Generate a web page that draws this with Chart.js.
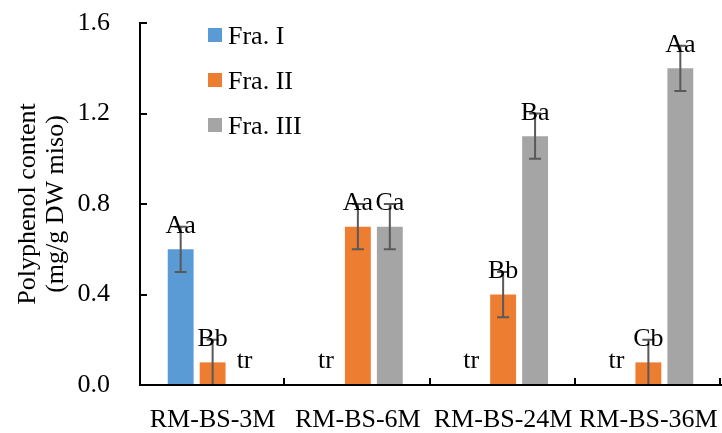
<!DOCTYPE html>
<html>
<head>
<meta charset="utf-8">
<script src="https://cdn.jsdelivr.net/npm/chart.js@4/dist/chart.umd.min.js"></script>
<style>
  html, body { margin: 0; padding: 0; background: #fff; }
  #wrap { width: 722px; height: 433px; position: relative; }
</style>
</head>
<body>
<div id="wrap"><canvas id="canvas"></canvas></div>
<script>
// samples on the x axis
const samples = ['RM-BS-3M', 'RM-BS-6M', 'RM-BS-24M', 'RM-BS-36M'];

// polyphenol content (mg/g DW miso), tr = trace -> 0
const fra1 = [0.6, 0, 0, 0];
const fra2 = [0.1, 0.7, 0.4, 0.1];
const fra3 = [0, 0.7, 1.1, 1.4];

// standard deviations (null = no bar)
const err1 = [0.1, null, null, null];
const err2 = [0.1, 0.1, 0.1, 0.1];
const err3 = [null, 0.1, 0.1, 0.1];

// significance letters
const tag1 = ['Aa', 'tr', 'tr', 'tr'];
const tag2 = ['Bb', 'Aa', 'Bb', 'Cb'];
const tag3 = ['tr', 'Ca', 'Ba', 'Aa'];

const yTicks = [0, 0.4, 0.8, 1.2, 1.6];

const SERIF = "'Liberation Serif', 'Times New Roman', serif";

// error bars + letters above each bar
const errorBars = {
  id: 'errorBars',
  afterDatasetsDraw(chart) {
    const ctx = chart.ctx;
    const y = chart.scales.y;
    ctx.save();
    chart.data.datasets.forEach((ds, i) => {
      const meta = chart.getDatasetMeta(i);
      meta.data.forEach((bar, j) => {
        const v = ds.data[j];
        const e = ds.err[j];
        let top = y.getPixelForValue(v);
        if (e != null) {
          top = y.getPixelForValue(v + e);
          const bot = y.getPixelForValue(Math.max(v - e, 0));
          ctx.strokeStyle = '#595959';
          ctx.lineWidth = 2;
          ctx.beginPath();
          ctx.moveTo(bar.x, top); ctx.lineTo(bar.x, bot);
          ctx.moveTo(bar.x - 6, top); ctx.lineTo(bar.x + 6, top);
          ctx.moveTo(bar.x - 6, bot); ctx.lineTo(bar.x + 6, bot);
          ctx.stroke();
        }
        const tag = ds.tags[j];
        if (!tag) return;
        ctx.fillStyle = '#000';
        ctx.font = '26px ' + SERIF;
        ctx.textAlign = 'center';
        ctx.textBaseline = 'alphabetic';
        if (tag === 'tr') {
          ctx.fillText(tag, bar.x, y.getPixelForValue(0) - 17);
        } else {
          ctx.fillText(tag, bar.x, top + 6);
        }
      });
    });
    ctx.restore();
  }
};

// inside tick marks and legend
const extras = {
  id: 'extras',
  afterDraw(chart) {
    const ctx = chart.ctx;
    const {left, right, top, bottom} = chart.chartArea;
    const y = chart.scales.y;
    ctx.save();
    ctx.strokeStyle = '#000';
    ctx.lineWidth = 2;
    ctx.beginPath();
    yTicks.forEach(t => {
      const py = Math.round(y.getPixelForValue(t));
      ctx.moveTo(left, py); ctx.lineTo(left + 7, py);
    });
    const w = (right - left) / samples.length;
    for (let k = 1; k <= samples.length; k++) {
      const px = Math.round(left + k * w) - 1;
      ctx.moveTo(px, bottom); ctx.lineTo(px, bottom - 7);
    }
    ctx.stroke();

    // legend
    ctx.font = '26px ' + SERIF;
    ctx.textAlign = 'left';
    ctx.textBaseline = 'alphabetic';
    chart.data.datasets.forEach((ds, i) => {
      const cy = top + 12 + i * 45;
      ctx.fillStyle = ds.backgroundColor;
      ctx.fillRect(left + 68, cy - 7, 14, 14);
      ctx.fillStyle = '#000';
      ctx.fillText(ds.label, left + 88, cy + 9);
    });
    ctx.restore();
  }
};

new Chart(document.getElementById('canvas').getContext('2d'), {
  type: 'bar',
  data: {
    labels: samples,
    datasets: [
      { label: 'Fra. I', data: fra1, err: err1, tags: tag1, backgroundColor: '#5B9BD5' },
      { label: 'Fra. II', data: fra2, err: err2, tags: tag2, backgroundColor: '#ED7D31' },
      { label: 'Fra. III', data: fra3, err: err3, tags: tag3, backgroundColor: '#A5A5A5' }
    ]
  },
  options: {
    responsive: true,
    maintainAspectRatio: false,
    animation: false,
    datasets: {
      bar: { categoryPercentage: 0.66, barPercentage: 0.81 }
    },
    layout: { padding: { top: 23, right: 1, left: 0, bottom: 0 } },
    plugins: {
      legend: { display: false },
      tooltip: { enabled: false }
    },
    scales: {
      x: {
        grid: { display: false, drawTicks: false },
        border: { display: true, color: '#000', width: 2, z: 1 },
        ticks: {
          color: '#000',
          padding: 20,
          maxRotation: 0,
          autoSkip: false,
          font: { family: SERIF, size: 26 }
        },
        afterFit(scale) {
          scale.height = 48;
          scale.paddingLeft = 0;
          scale.paddingRight = 0;
        }
      },
      y: {
        min: 0,
        max: 1.6,
        grid: { display: false, drawTicks: false },
        border: { display: true, color: '#000', width: 2, z: 1 },
        ticks: {
          stepSize: 0.4,
          color: '#000',
          padding: 30,
          font: { family: SERIF, size: 26 },
          callback: v => v.toFixed(1)
        },
        title: {
          display: true,
          text: ['Polyphenol content', '(mg/g DW miso)'],
          color: '#000',
          padding: { top: 14, bottom: 0 },
          font: { family: SERIF, size: 26, lineHeight: 1.08 }
        },
        afterFit(scale) {
          scale.width = 140;
          scale.paddingTop = 0;
          scale.paddingBottom = 0;
        }
      }
    }
  },
  plugins: [errorBars, extras]
});
</script>
</body>
</html>
